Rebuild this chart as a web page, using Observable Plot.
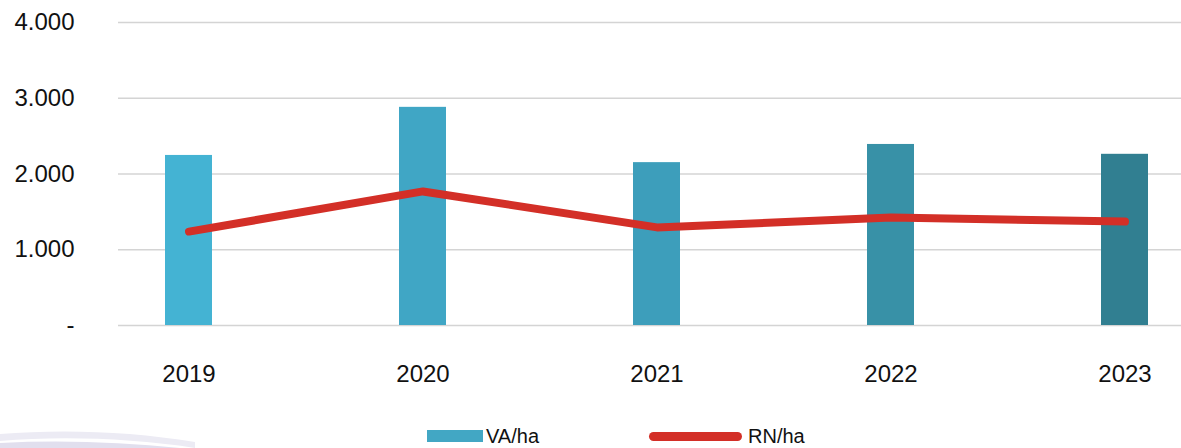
<!DOCTYPE html>
<html>
<head>
<meta charset="utf-8">
<script src="https://cdn.jsdelivr.net/npm/d3@7"></script>
<script src="https://cdn.jsdelivr.net/npm/@observablehq/plot@0.6"></script>
<style>
  html, body { margin: 0; padding: 0; background: #fff; }
  #wrap { position: relative; width: 1181px; height: 448px; overflow: hidden; background: #fff;
          font-family: "Liberation Sans", Arial, Helvetica, sans-serif; }
  #chart svg { display: block; overflow: visible; }
  #legend { position: absolute; left: 0; top: 400px; width: 1181px; height: 48px; }
  .item { position: absolute; top: 25px; display: flex; align-items: center; font-size: 20px; line-height: 22px; color: #111; }
  .swatch-bar { width: 56px; height: 12px; background: #42a7c4; margin-right: 3px; }
  .swatch-line { width: 93px; height: 9px; border-radius: 5px; background: #d32f27; margin-right: 6px; }
  #deco { position: absolute; left: 0; top: 400px; }
</style>
</head>
<body>
<div id="wrap">
  <div id="chart"></div>
  <svg id="deco" width="260" height="48">
    <path d="M0,34 C60,29 130,31 195,42 L195,48 C130,38 60,36 0,41 Z" fill="#ecebf4"/>
    <path d="M0,43 C60,40 120,42 180,48 L0,48 Z" fill="#e1dfee"/>
  </svg>
  <div id="legend">
    <div class="item" style="left:427px"><div class="swatch-bar"></div><span>VA/ha</span></div>
    <div class="item" style="left:649px"><div class="swatch-line"></div><span>RN/ha</span></div>
  </div>
</div>
<script>
const years = ["2019", "2020", "2021", "2022", "2023"];
const vaHa = [2245, 2880, 2150, 2390, 2260];
const rnHa = [1240, 1770, 1295, 1425, 1372];
const yTicks = [0, 1000, 2000, 3000, 4000];
const barColors = ["#44b3d3", "#40a6c5", "#3d9ebb", "#3891a7", "#317f91"];

const data = years.map((y, i) => ({year: y, va: vaHa[i], rn: rnHa[i], color: barColors[i]}));
const fmt = d => d === 0 ? "-" : d3.format(",")(d).replace(/,/g, ".");

const chart = Plot.plot({
  width: 1181,
  height: 400,
  marginTop: 22,
  marginBottom: 75,
  marginLeft: 118,
  marginRight: 0,
  style: {fontFamily: "'Liberation Sans', Arial, Helvetica, sans-serif", fontSize: "24px", color: "#111", background: "#fff"},
  x: {domain: years, range: [71, 1242], paddingInner: 0.8, paddingOuter: 0.4, label: null},
  y: {domain: [0, 4000], label: null},
  marks: [
    Plot.ruleY(yTicks, {stroke: "#d4d4d4", strokeWidth: 1.5}),
    Plot.barY(data, {x: "year", y: "va", fill: "color"}),
    Plot.lineY(data, {x: "year", y: "rn", stroke: "#d32f27", strokeWidth: 8, curve: "linear", strokeLinecap: "round", strokeLinejoin: "round"}),
    Plot.axisY(yTicks, {tickSize: 0, tickPadding: 44, tickFormat: fmt, fontSize: 24, fill: "#111"}),
    Plot.axisX(years, {tickSize: 0, tickPadding: 39, fontSize: 24, fill: "#111"})
  ]
});
document.getElementById("chart").appendChild(chart);
</script>
</body>
</html>
